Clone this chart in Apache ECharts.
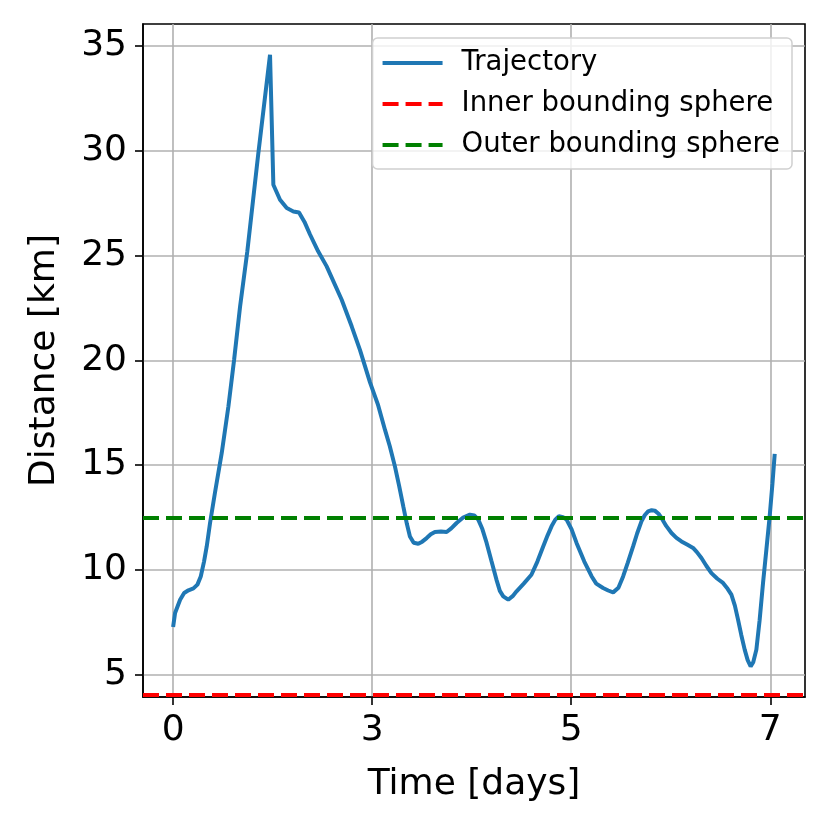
<!DOCTYPE html>
<html><head><meta charset="utf-8">
<script src="https://cdn.jsdelivr.net/npm/echarts@6/dist/echarts.min.js"></script>
<style>html,body{margin:0;padding:0;background:#fff}#c{width:830px;height:830px}</style>
</head><body><div id="c"></div>
<script>
// Time in days
const timeDays = [
  0.000, 0.023, 0.082, 0.129, 0.180, 0.238, 0.285, 0.324, 0.363, 0.394,
  0.433, 0.490, 0.570, 0.648, 0.715, 0.785, 0.870, 0.999, 1.136, 1.175,
  1.253, 1.332, 1.410, 1.476, 1.540, 1.605, 1.700, 1.800, 1.976, 2.093,
  2.190, 2.308, 2.400, 2.483, 2.540, 2.600, 2.650, 2.698, 2.740, 2.776,
  2.820, 2.874, 2.920, 2.972, 3.020, 3.069, 3.140, 3.206, 3.260, 3.323,
  3.400, 3.479, 3.530, 3.577, 3.625, 3.675, 3.730, 3.790, 3.830, 3.870,
  3.928, 3.980, 4.026, 4.110, 4.200, 4.270, 4.338, 4.390, 4.436, 4.480,
  4.522, 4.570, 4.612, 4.670, 4.729, 4.820, 4.905, 4.960, 5.040, 5.100,
  5.158, 5.220, 5.275, 5.330, 5.392, 5.440, 5.490, 5.530, 5.568, 5.610,
  5.646, 5.690, 5.725, 5.780, 5.842, 5.900, 5.959, 6.030, 6.095, 6.140,
  6.193, 6.250, 6.310, 6.380, 6.446, 6.500, 6.544, 6.585, 6.622, 6.660,
  6.700, 6.735, 6.770, 6.800, 6.837, 6.875, 6.915, 6.955, 6.993, 7.025,
  7.052
];
// Distance in km
const distanceKm = [
  7.28, 7.95, 8.58, 8.90, 9.03, 9.12, 9.30, 9.69, 10.41, 11.12,
  12.24, 13.67, 15.58, 17.80, 20.03, 22.57, 25.20, 29.88, 34.57, 28.37,
  27.66, 27.26, 27.10, 27.05, 26.60, 26.00, 25.20, 24.48, 22.89, 21.62,
  20.50, 18.95, 17.90, 16.69, 15.90, 14.94, 14.00, 13.03, 12.20, 11.60,
  11.30, 11.25, 11.35, 11.52, 11.70, 11.81, 11.83, 11.81, 11.98, 12.24,
  12.50, 12.64, 12.60, 12.40, 11.95, 11.29, 10.45, 9.54, 9.00, 8.74,
  8.58, 8.75, 8.98, 9.35, 9.77, 10.40, 11.12, 11.65, 12.08, 12.40,
  12.56, 12.52, 12.40, 11.95, 11.29, 10.40, 9.70, 9.35, 9.14, 9.02,
  8.93, 9.15, 9.69, 10.35, 11.12, 11.75, 12.32, 12.62, 12.79, 12.85,
  12.83, 12.68, 12.48, 12.10, 11.76, 11.53, 11.36, 11.20, 11.05, 10.85,
  10.57, 10.20, 9.85, 9.58, 9.38, 9.10, 8.82, 8.30, 7.63, 6.90,
  6.20, 5.70, 5.40, 5.60, 6.20, 7.60, 9.38, 11.00, 12.56, 14.10,
  15.54
];
const innerRadius = 4.03;
const outerRadius = 12.5;

const xTickValues = [0, 2.3333, 4.6667, 7];
const xTickLabels = ['0', '3', '5', '7'];
const yTickValues = [5, 10, 15, 20, 25, 30, 35];
const yTickLabels = ['5', '10', '15', '20', '25', '30', '35'];

const FONT = 'DejaVu Sans';
const trajectory = timeDays.map((t, i) => [t, distanceKm[i]]);

const chart = echarts.init(document.getElementById('c'), null, {renderer: 'canvas'});
chart.setOption({
  animation: false,
  backgroundColor: '#ffffff',
  grid: {
    left: 143, right: 25, top: 24, bottom: 133,
    show: true, borderColor: '#000', borderWidth: 1.6, backgroundColor: 'transparent'
  },
  xAxis: {
    type: 'value', min: -0.353, max: 7.407,
    name: 'Time [days]', nameLocation: 'middle', nameGap: 70,
    nameTextStyle: {fontFamily: FONT, fontSize: 36, color: '#000'},
    axisLine: {show: true, onZero: false, lineStyle: {color: '#000', width: 1.6}},
    axisTick: {show: true, length: 8, lineStyle: {color: '#000', width: 1.6}, customValues: xTickValues},
    axisLabel: {
      fontFamily: FONT, fontSize: 36, color: '#000', margin: 16,
      customValues: xTickValues,
      formatter: v => { const i = xTickValues.findIndex(x => Math.abs(x - v) < 1e-3); return i >= 0 ? xTickLabels[i] : ''; }
    },
    splitLine: {show: true, lineStyle: {color: '#b0b0b0', width: 1.6}}
  },
  yAxis: {
    type: 'value', min: 3.94, max: 36.04,
    name: 'Distance [km]', nameLocation: 'middle', nameGap: 80, nameRotate: 90,
    nameTextStyle: {fontFamily: FONT, fontSize: 36, color: '#000'},
    axisLine: {show: true, onZero: false, lineStyle: {color: '#000', width: 1.6}},
    axisTick: {show: true, length: 8, lineStyle: {color: '#000', width: 1.6}, customValues: yTickValues},
    axisLabel: {
      fontFamily: FONT, fontSize: 36, color: '#000', margin: 16,
      customValues: yTickValues,
      formatter: v => { const i = yTickValues.findIndex(y => Math.abs(y - v) < 1e-6); return i >= 0 ? yTickLabels[i] : ''; }
    },
    splitLine: {show: true, lineStyle: {color: '#b0b0b0', width: 1.6}}
  },
  legend: {
    orient: 'vertical', right: 38, top: 38,
    backgroundColor: 'rgba(255,255,255,0.8)', borderColor: '#d0d0d0', borderWidth: 1.5, borderRadius: 5,
    padding: [10, 12, 9, 8],
    itemWidth: 60, itemHeight: 20, itemGap: 11,
    itemStyle: {opacity: 0},
    textStyle: {fontFamily: FONT, fontSize: 27.5, color: '#000', lineHeight: 30, padding: [0, 0, 0, 14]},
    data: [
      {name: 'Trajectory', lineStyle: {color: '#1f77b4', width: 4, type: 'solid'}},
      {name: 'Inner bounding sphere', lineStyle: {color: '#ff0000', width: 4, type: [16, 7]}},
      {name: 'Outer bounding sphere', lineStyle: {color: '#008000', width: 4, type: [16, 7]}}
    ]
  },
  series: [
    {
      name: 'Trajectory', type: 'line', data: trajectory, showSymbol: false, symbol: 'none',
      lineStyle: {color: '#1f77b4', width: 4}, itemStyle: {color: '#1f77b4'}, smooth: false, z: 3
    },
    {
      name: 'Inner bounding sphere', type: 'line', data: [], symbol: 'none',
      lineStyle: {color: '#ff0000', width: 4, type: [16, 7]}, itemStyle: {color: '#ff0000'}, z: 4,
      markLine: {silent: true, symbol: 'none', label: {show: false},
        lineStyle: {color: '#ff0000', width: 4, type: [16, 7]}, data: [{yAxis: innerRadius}]}
    },
    {
      name: 'Outer bounding sphere', type: 'line', data: [], symbol: 'none',
      lineStyle: {color: '#008000', width: 4, type: [16, 7]}, itemStyle: {color: '#008000'}, z: 5,
      markLine: {silent: true, symbol: 'none', label: {show: false},
        lineStyle: {color: '#008000', width: 4, type: [16, 7]}, data: [{yAxis: outerRadius}]}
    }
  ]
});
</script></body></html>
